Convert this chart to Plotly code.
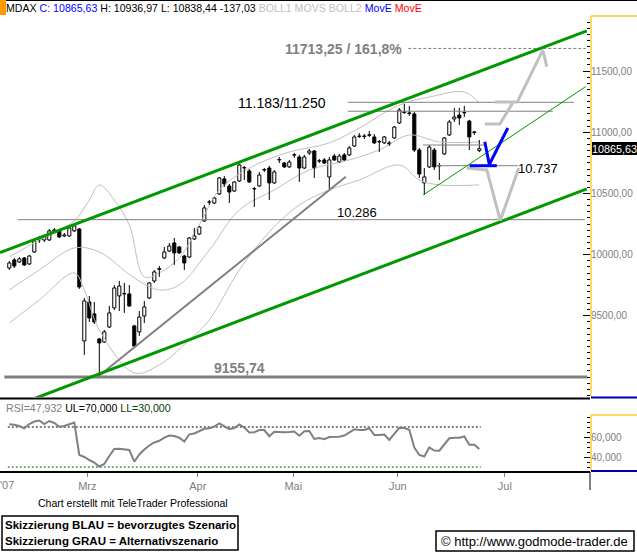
import plotly.graph_objects as go

W, H = 637, 553

# ---------------- data ----------------
OPEN = [9891, 9957, 9940, 9973, 9924, 10022, 10120, 10120, 10120, 10194,
        10194, 10153, 10153, 10194, 10210, 9295, 9614, 9516, 9311, 9287,
        9409, 9565, 9663, 9679, 9679, 9418, 9369, 9499, 9646, 9785,
        9880, 9973, 10030, 10096, 10063, 9989, 9981, 10128, 10169, 10275,
        10428, 10422, 10496, 10619, 10561, 10520, 10602, 10708, 10684, 10537,
        10561, 10692, 10708, 10586, 10774, 10749, 10717, 10813, 10798, 10708,
        10831, 10847, 10764, 10774, 10635, 10806, 10757, 10815, 10815, 10888,
        10966, 10970, 10975, 10962, 10921, 10913, 10913, 10954, 11076, 11162,
        11158, 11150, 10855, 10586, 10717, 10855, 10725, 10823, 10978, 11109,
        11141, 11158, 11092, 10998, 10850]
HIGH = [9949, 9973, 9981, 9981, 9998, 10128, 10153, 10161, 10210, 10218,
        10210, 10177, 10226, 10251, 10218, 9646, 9663, 9614, 9320, 9385,
        9581, 9752, 9785, 9769, 9752, 9426, 9540, 9622, 9777, 9875,
        9908, 10063, 10096, 10136, 10071, 9998, 10145, 10218, 10235, 10406,
        10447, 10471, 10635, 10643, 10578, 10602, 10741, 10725, 10700, 10553,
        10676, 10708, 10725, 10692, 10798, 10757, 10774, 10831, 10815, 10815,
        10864, 10855, 10782, 10790, 10798, 10823, 10823, 10831, 10888, 10978,
        10994, 10986, 11011, 10986, 10937, 10970, 10929, 11052, 11199, 11231,
        11215, 11166, 10872, 10708, 10896, 10872, 10749, 10962, 11101, 11199,
        11199, 11215, 11101, 11011, 10937]
LOW = [9875, 9891, 9932, 9908, 9916, 10014, 10096, 10104, 10112, 10177,
       10136, 10145, 10145, 10186, 9720, 9181, 9450, 9434, 9010, 9279,
       9401, 9548, 9540, 9524, 9573, 9246, 9336, 9442, 9638, 9769,
       9818, 9965, 10022, 9916, 10006, 9875, 9973, 10120, 10161, 10267,
       10406, 10414, 10488, 10553, 10422, 10512, 10594, 10610, 10586, 10390,
       10553, 10676, 10447, 10578, 10749, 10708, 10708, 10790, 10594, 10700,
       10815, 10627, 10749, 10741, 10537, 10766, 10749, 10766, 10806, 10880,
       10954, 10945, 10962, 10905, 10839, 10905, 10888, 10945, 11068, 11150,
       11133, 10839, 10627, 10488, 10708, 10692, 10610, 10815, 10970, 11084,
       11060, 11125, 10855, 10978, 10838]
CLOSE = [9932, 9908, 9965, 9916, 9989, 10112, 10136, 10145, 10194, 10202,
         10145, 10161, 10218, 10235, 9736, 9622, 9483, 9450, 9279, 9369,
         9524, 9728, 9744, 9683, 9581, 9254, 9491, 9573, 9769, 9859,
         9886, 10022, 10071, 10014, 10014, 9932, 10136, 10153, 10226, 10382,
         10431, 10463, 10627, 10578, 10512, 10594, 10733, 10712, 10594, 10540,
         10651, 10695, 10586, 10676, 10778, 10717, 10757, 10817, 10708, 10798,
         10847, 10708, 10768, 10749, 10774, 10774, 10806, 10774, 10872, 10962,
         10970, 10966, 10980, 10913, 10925, 10962, 10905, 11043, 11182, 11166,
         11154, 10855, 10659, 10635, 10880, 10717, 10729, 10954, 11084, 11125,
         11117, 11162, 10962, 11003, 10866]

# Bollinger bands (read at selected candles)
BB_UP_IDX = [0, 6, 13, 16, 18, 21, 24, 27, 30, 34, 38, 42, 48, 56, 64, 70, 78, 84, 91, 94]
BB_UP = [9981, 10120, 10276, 10447, 10570, 10447, 10243, 9818, 9851, 9973,
         10243, 10529, 10708, 10839, 10913, 11035, 11223, 11288, 11329, 11239]
BB_MID_IDX = [0, 6, 13, 18, 25, 30, 34, 40, 46, 53, 60, 68, 74, 80, 86, 94]
BB_MID = [9712, 9875, 10055, 10022, 9810, 9712, 9753, 10038, 10365, 10529,
          10692, 10774, 10856, 10978, 10921, 10921]
BB_LO_IDX = [0, 6, 13, 15, 18, 25, 30, 36, 40, 46, 52, 58, 64, 70, 78, 82, 86, 94]
BB_LO = [9442, 9630, 9851, 9712, 9385, 9034, 9099, 9303, 9467, 9875,
         10186, 10406, 10529, 10610, 10733, 10610, 10570, 10570]

RSI = [72.7, 72.3, 71, 68.7, 73, 75.5, 76.5, 73, 76, 74,
       70.3, 71, 72.7, 74.5, 42, 40, 37, 34.5, 30.5, 33,
       41, 48, 48.2, 47.8, 47, 35.3, 42.5, 47.5, 51.5, 54.5,
       56.2, 59.3, 61.5, 61, 59.3, 55.5, 62.7, 63.5, 65.5, 68.2,
       68.7, 70.5, 73.5, 71, 67.8, 69, 72.5, 69.5, 64.5, 64.8,
       67, 67, 60.8, 65.3, 64.8, 64.7, 64.9, 65.5, 61.3, 65.8,
       66, 58, 59, 57.8, 60, 60.3, 60.3, 61.5, 64.5, 67.7,
       67, 67, 68.8, 62, 62, 62.5, 57, 63.5, 69.2, 69,
       67.3, 49.5, 42, 40.5, 49.5, 46.5, 46.3, 52.5, 58.7, 59.2,
       59.3, 60.5, 52.2, 52.3, 47.9]
RSI_UL, RSI_LL = 70, 30

MONTH_POS = [15.6, 37.7, 56.8, 77.7, 99.1]
MONTH_LBL = ["Mrz", "Apr", "Mai", "Jun", "Jul"]

PRICE_TICKS = [9500, 10000, 10500, 11000, 11500]
RSI_TICKS = [40, 60]

# drawn analysis (index, value)
CHAN_UP_X, CHAN_UP_Y = [-1.86, 115.5], [10016, 11829]
CHAN_LO_X, CHAN_LO_Y = [4.8, 115.5], [8821, 10537]
CHAN_THIN_X, CHAN_THIN_Y = [82.8, 115.3], [10488, 11374]
TREND_X, TREND_Y = [17.9, 67.3], [9009, 10637]

LVL_10286 = 10286; LVL_10286_X = [1.7, 115.1]
LVL_LOW = 9000; LVL_LOW_X = [-1.0, 115.6]
LVL_161 = 11685; LVL_161_X = [79.8, 115.3]
LVL_11250 = 11245; LVL_11250_X = [67.7, 112.9]
LVL_11183 = 11172; LVL_11183_X = [67.7, 108.7]
LVL_10737 = 10727; LVL_10737_X = [85.7, 101.7]
LVL_10896 = 10896; LVL_10896_X = [82.7, 95.1]

BLUE_H_X, BLUE_H_Y = [92.1, 97.5], [10727, 10727]
BLUE_V_X, BLUE_V_Y = [95.1, 96.0, 99.7], [10923, 10737, 11035]
GRAY_DN_X, GRAY_DN_Y = [91.5, 95.5, 98.2, 101.9], [10708, 10692, 10280, 10708]
GRAY_UPA_X, GRAY_UPA_Y = [95.1, 98.1, 100.7], [11068, 11068, 11240]
GRAY_UPB_X, GRAY_UPB_Y = [97.1, 101.6, 106.7, 107.5], [11248, 11248, 11672, 11537]

# ---------------- figure ----------------
def PX(x):
    return x / W

def PY(y):
    return 1 - y / H

XR = [-1.86, 116.14]
YR = [8837, 11942]
RR = [26, 82]

ARIAL = "Liberation Sans, Arial, sans-serif"

fig = go.Figure()

def line(x, y, color, width, dash=None, xa="x", ya="y", shape="linear"):
    fig.add_trace(go.Scatter(x=x, y=y, mode="lines", xaxis=xa, yaxis=ya,
                             line=dict(color=color, width=width, dash=dash, shape=shape),
                             hoverinfo="skip", showlegend=False))

# bollinger
line(BB_UP_IDX, BB_UP, "#c0c0c0", 1, shape="spline")
line(BB_MID_IDX, BB_MID, "#c0c0c0", 1, shape="spline")
line(BB_LO_IDX, BB_LO, "#c0c0c0", 1, shape="spline")

# candles
N = len(CLOSE)
IDX = list(range(N))
wx, wy = [], []
for i in IDX:
    top, bot = max(OPEN[i], CLOSE[i]), min(OPEN[i], CLOSE[i])
    wx += [i, i, None, i, i, None]
    wy += [HIGH[i], top, None, bot, LOW[i], None]
line(wx, wy, "black", 1)

up = [i for i in IDX if CLOSE[i] >= OPEN[i]]
dn = [i for i in IDX if CLOSE[i] < OPEN[i]]
for sel, col in ((up, "white"), (dn, "black")):
    fig.add_trace(go.Bar(
        x=sel, y=[max(abs(CLOSE[i] - OPEN[i]), 2) for i in sel],
        base=[min(OPEN[i], CLOSE[i]) for i in sel], width=0.62,
        marker=dict(color=col, line=dict(color="black", width=1)),
        xaxis="x", yaxis="y", hoverinfo="skip", showlegend=False))

# analysis drawing
line(TREND_X, TREND_Y, "#808080", 2)
line(LVL_10286_X, [LVL_10286] * 2, "#808080", 1)
line(LVL_LOW_X, [LVL_LOW] * 2, "#808080", 3)
line(LVL_161_X, [LVL_161] * 2, "#808080", 1, dash="3px,2px")
line(LVL_11250_X, [LVL_11250] * 2, "#808080", 1)
line(LVL_11183_X, [LVL_11183] * 2, "#808080", 1)
line(LVL_10737_X, [LVL_10737] * 2, "#808080", 1)
line(LVL_10896_X, [LVL_10896] * 2, "#808080", 1)
line(CHAN_UP_X, CHAN_UP_Y, "#009900", 3)
line(CHAN_LO_X, CHAN_LO_Y, "#009900", 3)
line(CHAN_THIN_X, CHAN_THIN_Y, "#009900", 1)
line(GRAY_DN_X, GRAY_DN_Y, "#c0c0c0", 3)
line(GRAY_UPA_X, GRAY_UPA_Y, "#c0c0c0", 3)
line(GRAY_UPB_X, GRAY_UPB_Y, "#c0c0c0", 3)
line(BLUE_H_X, BLUE_H_Y, "#0000ff", 3)
line(BLUE_V_X, BLUE_V_Y, "#0000ff", 3)

# RSI
line([-0.3, 94.3], [RSI_UL] * 2, "black", 1, dash="2px,2px", xa="x2", ya="y2")
line([-0.3, 94.3], [RSI_LL] * 2, "#005500", 1, dash="2px,2px", xa="x2", ya="y2")
line(IDX, RSI, "#808080", 2, xa="x2", ya="y2")

def fmt(v, d):
    return f"{v:.{d}f}".replace(".", ",")

tickfont = dict(family=ARIAL, size=10, color="#808080")
common = dict(showgrid=False, zeroline=False, automargin=False)
XD = [0, PX(590)]
fig.update_layout(
    width=W, height=H, margin=dict(l=0, r=0, t=0, b=0, autoexpand=False),
    paper_bgcolor="white", plot_bgcolor="white", barmode="overlay",
    showlegend=False,
    xaxis=dict(domain=XD, range=XR, anchor="y", showticklabels=False,
               ticks="", **common),
    xaxis2=dict(domain=XD, range=XR, anchor="y2", matches="x",
                tickvals=MONTH_POS, ticktext=MONTH_LBL, ticks="outside", ticklen=5,
                tickcolor="#808080", tickfont=dict(family=ARIAL, size=11, color="#808080"),
                **common),
    yaxis=dict(domain=[PY(397), PY(17)], range=YR, anchor="x", side="right",
               tickvals=PRICE_TICKS, ticktext=[fmt(v, 2) for v in PRICE_TICKS],
               ticks="inside", ticklen=7, tickcolor="black", tickfont=tickfont,
               minor=dict(dtick=50, ticks="inside", ticklen=3, tickcolor="black"),
               **common),
    yaxis3=dict(overlaying="y", range=YR, anchor="x", side="left", showticklabels=False,
                tickvals=PRICE_TICKS, ticks="inside", ticklen=7, tickcolor="black",
                minor=dict(dtick=50, ticks="inside", ticklen=3, tickcolor="black"),
                **common),
    yaxis2=dict(domain=[PY(471), PY(415)], range=RR, anchor="x2", side="right",
                tickvals=RSI_TICKS, ticktext=[fmt(v, 3) for v in RSI_TICKS],
                ticks="inside", ticklen=6, tickcolor="black", tickfont=tickfont,
                minor=dict(dtick=5, ticks="inside", ticklen=3, tickcolor="black"),
                **common),
    yaxis4=dict(overlaying="y2", range=RR, anchor="x2", side="left", showticklabels=False,
                tickvals=RSI_TICKS, ticks="inside", ticklen=6, tickcolor="black",
                minor=dict(dtick=5, ticks="inside", ticklen=3, tickcolor="black"),
                **common),
)

shapes = []
def pline(x0, y0, x1, y1, color, width):
    shapes.append(dict(type="line", xref="paper", yref="paper", x0=PX(x0), y0=PY(y0),
                       x1=PX(x1), y1=PY(y1), line=dict(color=color, width=width)))
def prect(x0, y0, x1, y1, fill, lc=None, lw=0):
    shapes.append(dict(type="rect", xref="paper", yref="paper", x0=PX(x0), y0=PY(y0),
                       x1=PX(x1), y1=PY(y1), fillcolor=fill,
                       line=dict(color=lc or fill, width=lw)))

ORANGE = "#ffcc33"
BLUE = "#0000aa"
pline(0, 0.5, 637, 0.5, "black", 1)
prect(0, 0, 6, 15, "#ff9900")
pline(591, 16, 591, 397, ORANGE, 1.5)
pline(591, 16, 637, 16, ORANGE, 1.5)
pline(591, 397.5, 637, 397.5, BLUE, 2)
pline(0, 398.5, 590, 398.5, "black", 2)
pline(591, 415, 591, 471, ORANGE, 1.5)
pline(591, 415, 637, 415, ORANGE, 1.5)
pline(591, 471, 637, 471, BLUE, 2)
pline(0, 472, 590, 472, "black", 2)
pline(590, 472, 590, 490, "black", 1)
prect(592, 142, 637, 155, "black")
prect(2, 516, 238, 550, "rgba(0,0,0,0)", "black", 1.5)
prect(436, 531, 634, 551, "rgba(0,0,0,0)", "black", 1.5)
fig.update_layout(shapes=shapes)

anns = []
def text(x, y, s, size, color="black", family=ARIAL, anchor="left"):
    anns.append(dict(xref="paper", yref="paper", x=PX(x), y=PY(y), text=s, showarrow=False,
                     xanchor=anchor, yanchor="middle", borderpad=0,
                     font=dict(family=family, size=size, color=color)))

text(5, 8, "MDAX <span style='color:#0000ff'>C: 10865,63</span> H: 10936,97 L: 10838,44 -137,03 "
     "<span style='color:#c0c0c0'>BOLL1 MOVS BOLL2</span> <span style='color:#0000ff'>MovE</span> "
     "<span style='color:#ff0000'>MovE</span>", 10.6)
text(284, 49, "<b>11713,25 / 161,8%</b>", 14, "#808080")
text(237, 103, "11.183/11.250", 14)
text(336, 213, "10.286", 13)
text(517, 168, "10.737", 13)
text(213, 368, "<b>9155,74</b>", 14, "#808080")
text(591, 148.5, "10865,63", 10.8, "white")
text(5, 408, "<span style='color:#808080'>RSI=47,932</span> UL=70,000 "
     "<span style='color:#004000'>LL=30,000</span>", 10.6)
text(-1, 485, "'07", 11, "#808080")
text(37, 503, "Chart erstellt mit TeleTrader Professional", 10.5)
text(4, 525, "<b>Skizzierung BLAU = bevorzugtes Szenario</b>", 11.5)
text(4, 541, "<b>Skizzierung GRAU = Alternativszenario</b>", 11.5)
text(440, 541, "© http://www.godmode-trader.de", 13)
fig.update_layout(annotations=anns)

fig.write_html("out.html", config={"displayModeBar": False},
               post_script="document.body.style.margin='0';document.body.style.padding='0';")
